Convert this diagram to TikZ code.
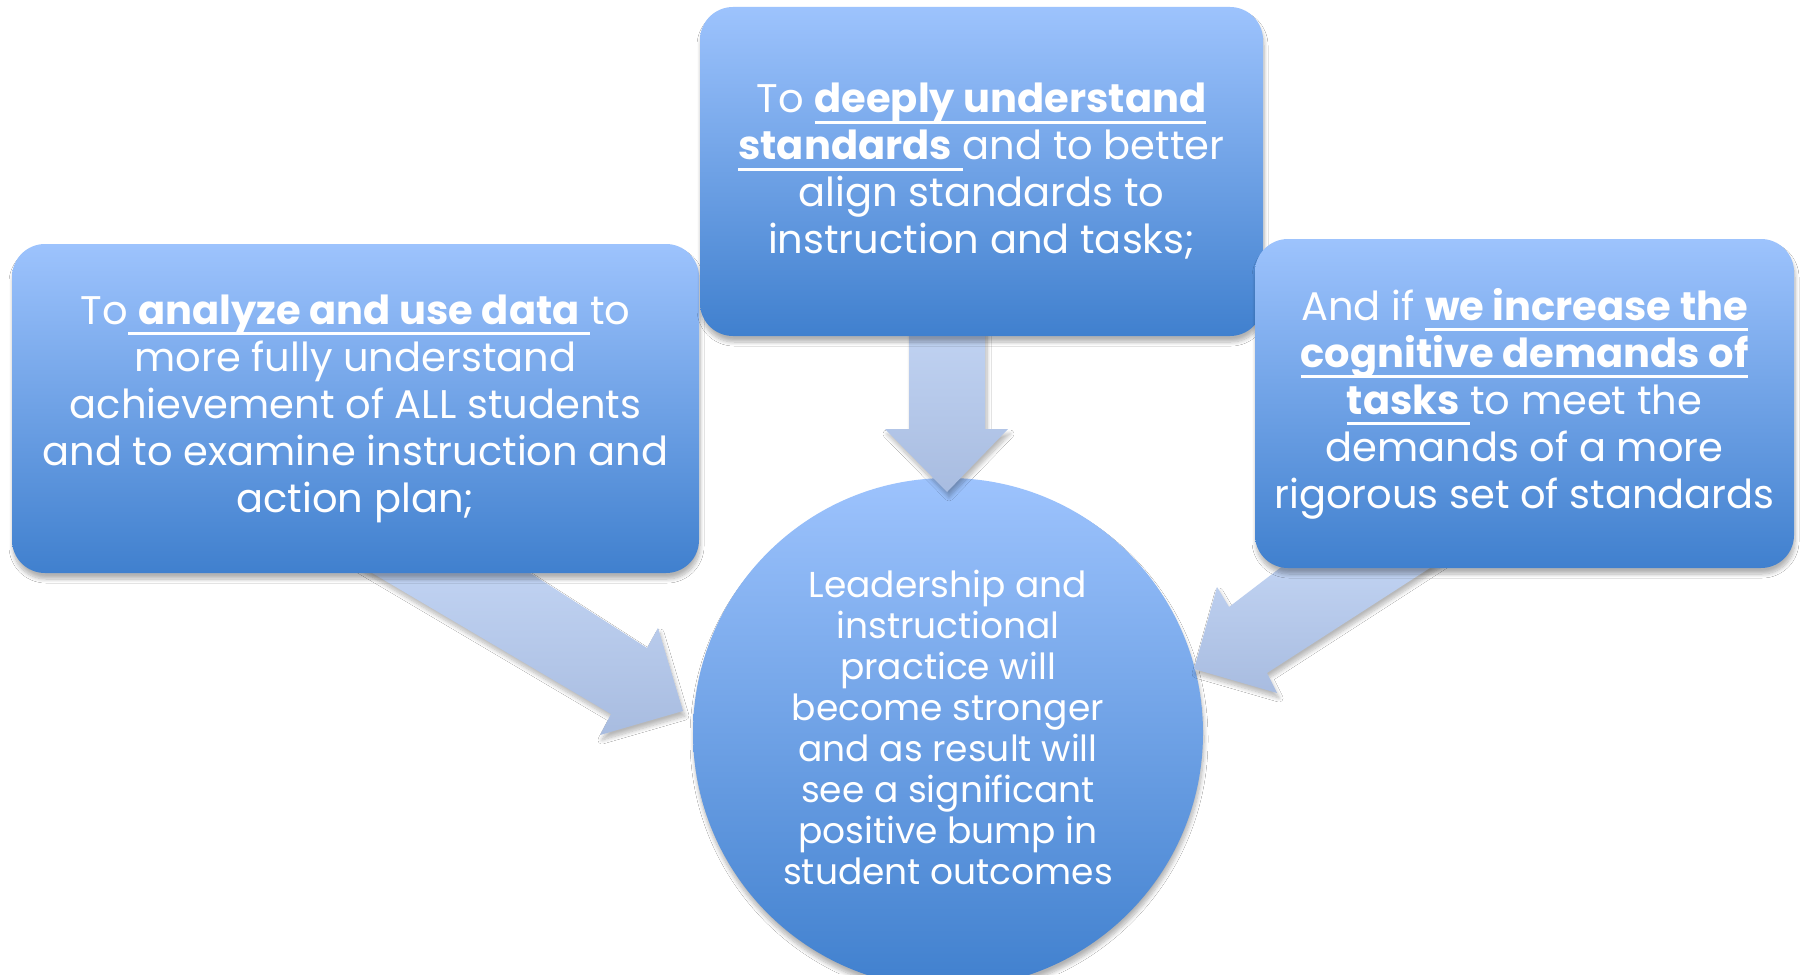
\documentclass[tikz,border=0pt]{standalone}
\usepackage{fontspec}
\setmainfont{Poppins}
\usetikzlibrary{shadows.blur}

\definecolor{boxtop}{RGB}{157,195,253}
\definecolor{boxbot}{RGB}{64,128,206}
\definecolor{arrtop}{RGB}{194,212,243}
\definecolor{arrbot}{RGB}{168,188,224}

% underline that also runs under the surrounding spaces
\newsavebox\ulbox
\newcommand\ul[1]{\sbox\ulbox{#1}\rlap{\rule[-0.27em]{\wd\ulbox}{0.065em}}\usebox\ulbox}

\tikzset{
  softshadow/.style={blur shadow={shadow xshift=1pt, shadow yshift=-6pt,
      shadow blur radius=4pt, shadow blur steps=8, shadow opacity=30}},
  panel/.style={rectangle, rounded corners=33pt, top color=boxtop,
      bottom color=boxbot, draw=none, inner sep=0pt, text=white,
      align=center, font=\fontsize{40}{47}\selectfont, softshadow},
  hub/.style={circle, top color=boxtop, bottom color=boxbot, draw=none,
      inner sep=0pt, minimum size=510pt, softshadow},
  hubtext/.style={text=white, align=center, inner sep=0pt,
      font=\fontsize{36}{41}\selectfont},
  flowarrow/.style={top color=arrtop, bottom color=arrbot, draw=none,
      blur shadow={shadow xshift=2pt, shadow yshift=-5pt,
      shadow blur radius=4pt, shadow blur steps=8, shadow opacity=28}},
}

\begin{document}
\begin{tikzpicture}[x=1pt, y=-1pt]
  \fill[white] (0,0) rectangle (1803,974);
  \useasboundingbox (0,0) rectangle (1803,974);

  % central outcome
  \node[hub] (goal) at (948,733) {};
  \node[hubtext] (goaltext) at (948,727)
    {Leadership and\\instructional\\practice will\\become stronger\\and as result will\\see a significant\\positive bump in\\student outcomes};

  % arrows into the outcome
  \path[flowarrow] (350,560) -- (611,714) -- (600,735) -- (683,711)
    -- (658,628) -- (647,648) -- (510,560) -- cycle;
  \path[flowarrow] (909,320) -- (909,429) -- (885,429) -- (947,492)
    -- (1008,429) -- (985,429) -- (985,320) -- cycle;
  \path[flowarrow] (1297,555) -- (1229,607) -- (1217,587) -- (1194,669)
    -- (1277,693) -- (1267,673) -- (1450,555) -- cycle;

  % the three conditions
  \node[panel, minimum width=687pt, minimum height=329pt] (data) at (355.5,408.5)
    {To\ul{ \textbf{analyze and use data} }to\\more fully understand\\achievement of ALL students\\and to examine instruction and\\action plan;};
  \node[panel, minimum width=563pt, minimum height=329pt] (standards) at (981.5,171.5)
    {To \ul{\textbf{deeply understand}}\\\ul{\textbf{standards} }and to better\\align standards to\\instruction and tasks;};
  \node[panel, minimum width=539pt, minimum height=329pt] (tasks) at (1524.5,403.5)
    {And if \ul{\textbf{we increase the}}\\\ul{\textbf{cognitive demands of}}\\\ul{\textbf{tasks} }to meet the\\demands of a more\\rigorous set of standards};
\end{tikzpicture}
\end{document}
